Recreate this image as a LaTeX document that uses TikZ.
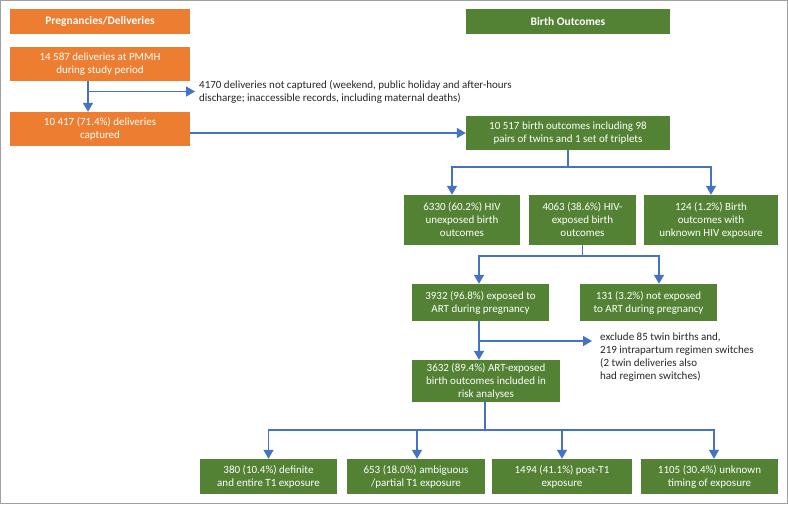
\documentclass[tikz,border=0pt]{standalone}
\usepackage{fontspec}
\setmainfont{Carlito}
\usetikzlibrary{arrows.meta}
\definecolor{orng}{HTML}{ED7D31}
\definecolor{grn}{HTML}{548235}
\definecolor{blu}{HTML}{4472C4}
\tikzset{
  obox/.style={fill=orng, text=white, inner sep=0pt, align=center, font=\fontsize{11}{13}\selectfont},
  gbox/.style={fill=grn, text=white, inner sep=0pt, align=center, font=\fontsize{11}{13}\selectfont},
  hdr/.style={font=\fontsize{11.5}{13}\selectfont\bfseries},
  note/.style={text=black!85, inner sep=0pt, align=left, font=\fontsize{11}{13}\selectfont},
  conn/.style={draw=blu, line width=1.5pt},
  arr/.style={conn, -{Triangle[width=10pt,length=9pt]}},
}
\begin{document}
\begin{tikzpicture}[x=1pt,y=-1pt]
\useasboundingbox (0,0) rectangle (788,504);
\draw[gray!75, line width=1.2pt] (0.6,0.6) rectangle (787.4,503.4);

% headers
\node[obox, hdr, minimum width=180pt, minimum height=25pt] (hL) at (100,21.5) {Pregnancies/Deliveries};
\node[gbox, hdr, minimum width=204pt, minimum height=25pt] (hR) at (568,21.5) {Birth Outcomes};

% left column
\node[obox, minimum width=180pt, minimum height=34pt] (A) at (100,64) {14 587 deliveries at PMMH\\during study period};
\node[obox, minimum width=180pt, minimum height=34pt] (B) at (100,129) {10 417 (71.4\%) deliveries\\captured};
\node[note, anchor=west] (x1) at (199,91.5) {4170 deliveries not captured (weekend, public holiday and after-hours\\discharge; inaccessible records, including maternal deaths)};
\coordinate (x1t) at (195,91.5);

% right column
\node[gbox, minimum width=204pt, minimum height=34pt] (C) at (568,133) {10 517 birth outcomes including 98\\pairs of twins and 1 set of triplets};

\node[gbox, minimum width=116pt, minimum height=50pt] (D1) at (462,220) {6330 (60.2\%) HIV\\unexposed birth\\outcomes};
\node[gbox, minimum width=107pt, minimum height=50pt] (D2) at (582.5,220) {4063 (38.6\%) HIV-\\exposed birth\\outcomes};
\node[gbox, minimum width=134pt, minimum height=50pt] (D3) at (711,220) {124 (1.2\%) Birth\\outcomes with\\unknown HIV exposure};

\node[gbox, minimum width=137pt, minimum height=37pt] (E1) at (480.5,302.5) {3932 (96.8\%) exposed to\\ART during pregnancy};
\node[gbox, minimum width=137pt, minimum height=37pt] (E2) at (648.5,302.5) {131 (3.2\%) not exposed\\to ART during pregnancy};

\node[note, anchor=north west] (x2) at (600,333) {exclude 85 twin births and,\\219 intrapartum regimen switches\\(2 twin deliveries also\\had regimen switches)};
\coordinate (x2t) at (592,341);

\node[gbox, minimum width=148pt, minimum height=42pt] (F) at (486,381) {3632 (89.4\%) ART-exposed\\birth outcomes included in\\risk analyses};

\node[gbox, minimum width=137pt, minimum height=35pt] (G1) at (268.5,476.5) {380 (10.4\%) definite\\and entire T1 exposure};
\node[gbox, minimum width=138pt, minimum height=35pt] (G2) at (416,476.5) {653 (18.0\%) ambiguous\\/partial T1 exposure};
\node[gbox, minimum width=140pt, minimum height=35pt] (G3) at (562,476.5) {1494 (41.1\%) post-T1\\exposure};
\node[gbox, minimum width=137pt, minimum height=35pt] (G4) at (709.5,476.5) {1105 (30.4\%) unknown\\timing of exposure};

% connectors
\draw[arr] ([xshift=-12pt]A.south) -- ([xshift=-12pt]B.north);
\draw[arr] ([xshift=-12pt]A.south |- x1t) -- (x1t);
\draw[arr] (B.east |- C.west) -- (C.west);

\coordinate (j1) at (568,167);
\draw[conn] (C.south) -- (j1);
\draw[arr] (j1) -| ([xshift=-10pt]D1.north);
\draw[arr] (j1) -| (D3.north);

\coordinate (j2) at (582.5,256);
\draw[conn] (D2.south) -- (j2);
\draw[arr] (j2) -| ([xshift=-1.5pt]E1.north);
\draw[arr] (j2) -| ([xshift=10.5pt]E2.north);

\draw[arr] ([xshift=-1.5pt]E1.south) -- ([xshift=-1.5pt]E1.south |- F.north);
\draw[arr] ([xshift=-1.5pt]E1.south |- x2t) -- (x2t);

\coordinate (j3) at (485,430);
\draw[conn] ([xshift=-1pt]F.south) -- (j3);
\draw[arr] (j3) -| (G1.north);
\draw[arr] (j3) -| ([xshift=1pt]G2.north);
\draw[arr] (j3) -| (G3.north);
\draw[arr] (j3) -| ([xshift=4.5pt]G4.north);
\end{tikzpicture}
\end{document}
